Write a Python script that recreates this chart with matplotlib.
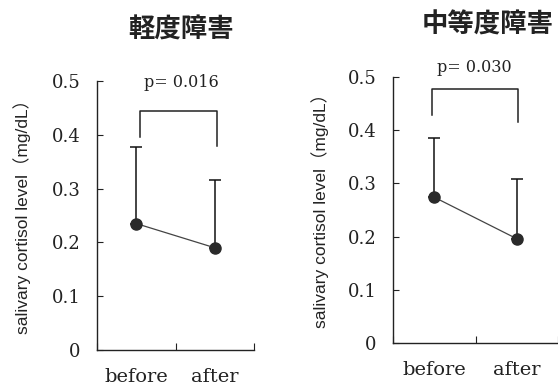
import matplotlib
matplotlib.use("Agg")
import matplotlib.pyplot as plt

categories = ["before", "after"]
titles = ["軽度障害", "中等度障害"]
mild_means = [0.235, 0.190]
mild_err = [0.143, 0.126]
moderate_means = [0.274, 0.196]
moderate_err = [0.112, 0.112]
p_labels = ["p= 0.016", "p= 0.030"]
yticks = [0, 0.1, 0.2, 0.3, 0.4, 0.5]
ytick_labels = ["0", "0.1", "0.2", "0.3", "0.4", "0.5"]
ylabel = "salivary cortisol level（mg/dL）"

W, H = 558, 390
fig = plt.figure(figsize=(W / 100, H / 100), dpi=100)

panels = [
    dict(rect=[97 / W, 1 - 350 / H, 157 / W, 269 / H], means=mild_means, err=mild_err,
         title=titles[0], tx=181, ty=30, lx=22, ly=212, p=p_labels[0],
         br=(0.55, 1.53, 0.445, 0.395, 0.38), px=1.08, py=0.497),
    dict(rect=[393 / W, 1 - 343 / H, 165 / W, 266 / H], means=moderate_means, err=moderate_err,
         title=titles[1], tx=488, ty=25, lx=320, ly=207, p=p_labels[1],
         br=(0.47, 1.51, 0.478, 0.428, 0.415), px=0.99, py=0.518),
]

serif = ["DejaVu Serif"]
for pn in panels:
    ax = fig.add_axes(pn["rect"])
    xs = [0.5, 1.5]
    ax.errorbar(xs, pn["means"], yerr=[[0, 0], pn["err"]], fmt="none", ecolor="#111111",
                elinewidth=1.1, capsize=4, capthick=1.1, zorder=2)
    ax.plot(xs, pn["means"], color="#444444", lw=0.9, zorder=3)
    ax.plot(xs, pn["means"], "o", color="#2a2a2a", ms=8, zorder=4)
    x0, x1, top, l0, l1 = pn["br"]
    ax.plot([x0, x0, x1, x1], [l0, top, top, l1], color="#222222", lw=1.1, clip_on=False)
    ax.text(pn["px"], pn["py"], pn["p"], ha="center", va="center", fontsize=11.5,
            family=serif, color="#222222", clip_on=False)
    ax.set_xlim(0, 2)
    ax.set_ylim(0, 0.5)
    for s in ["top", "right"]:
        ax.spines[s].set_visible(False)
    for s in ["left", "bottom"]:
        ax.spines[s].set_linewidth(1.0)
        ax.spines[s].set_color("#222222")
    ax.set_yticks(yticks)
    ax.set_yticklabels(ytick_labels, family=serif, fontsize=13, color="#222222")
    ax.tick_params(axis="y", direction="in", length=4, pad=12, color="#222222")
    ax.set_xticks([0, 1, 2])
    ax.set_xticklabels([])
    ax.tick_params(axis="x", which="major", direction="in", length=5, color="#222222")
    ax.set_xticks(xs, minor=True)
    ax.set_xticklabels(categories, minor=True, family=serif, fontsize=14, color="#222222")
    ax.tick_params(axis="x", which="minor", length=0, pad=13)
    fig.text(pn["tx"] / W, 1 - pn["ty"] / H, pn["title"], ha="center", va="center",
             fontsize=19, fontweight="bold", family=["Noto Sans CJK JP"], color="#222222")
    fig.text(pn["lx"] / W, 1 - pn["ly"] / H, ylabel, ha="center", va="center", rotation=90,
             fontsize=12.5, family=["Liberation Sans", "Noto Sans CJK JP"], color="#222222")

fig.savefig("out.png", dpi=100)
